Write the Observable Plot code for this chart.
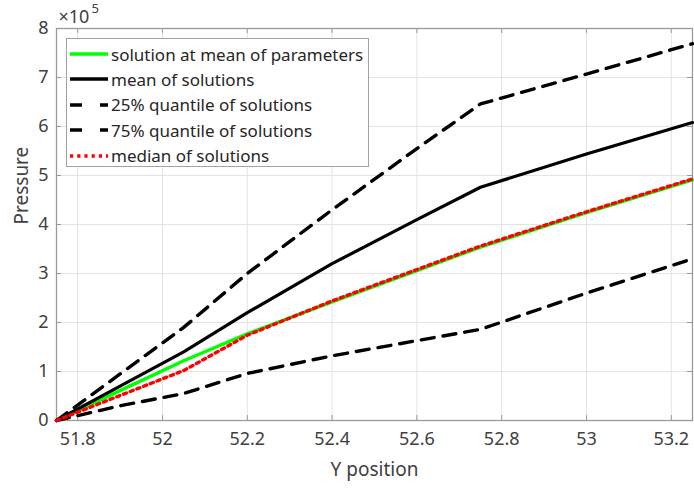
<!DOCTYPE html>
<html>
<head>
<meta charset="utf-8">
<script src="https://cdn.jsdelivr.net/npm/d3@7"></script>
<script src="https://cdn.jsdelivr.net/npm/@observablehq/plot@0.6"></script>
<style>
  body { margin: 0; background: #fff; }
  #wrap { position: relative; width: 694px; height: 489px; font-family: "Noto Sans", "Open Sans", sans-serif; }
  #legend { position: absolute; left: 66px; top: 38px; width: 303px; height: 129px; border: 1px solid #a3a3a3; background: #fff; box-sizing: border-box; }
  .row { position: absolute; left: 0; height: 26px; display: flex; align-items: center; font-size: 17px; color: #262626; white-space: nowrap; }
  .row svg { margin-left: 3px; margin-right: 3px; }
</style>
</head>
<body>
<div id="wrap"></div>
<script>
// ---- data (pressure in units of 1e5) ----
const yPosition = [51.75, 51.9, 52.05, 52.2, 52.4, 52.6, 52.75, 53.0, 53.25];
const solAtMean = [0, 0.61, 1.22, 1.77, 2.42, 3.06, 3.54, 4.24, 4.91];
const meanSol   = [0, 0.70, 1.40, 2.20, 3.20, 4.10, 4.76, 5.44, 6.08];
const q25Sol    = [0, 0.30, 0.55, 0.96, 1.32, 1.63, 1.86, 2.60, 3.30];
const q75Sol    = [0, 0.95, 1.90, 3.00, 4.30, 5.55, 6.46, 7.07, 7.69];
const medianSol = [0, 0.51, 1.02, 1.74, 2.44, 3.08, 3.56, 4.26, 4.93];
const xTicks = [51.8, 52, 52.2, 52.4, 52.6, 52.8, 53, 53.2];
const yTicks = [0, 1, 2, 3, 4, 5, 6, 7, 8];
const seriesNames = ["solution at mean of parameters", "mean of solutions", "25% quantile of solutions", "75% quantile of solutions", "median of solutions"];

const toRows = (vals) => yPosition.map((x, i) => ({x, y: vals[i]}));

const FRAME = "#9a9a9a";
const TEXT = "#404040";
const font = '"Noto Sans", "Open Sans", sans-serif';

const chart = Plot.plot({
  width: 694,
  height: 489,
  marginLeft: 56,
  marginRight: 2,
  marginTop: 28,
  marginBottom: 69,
  style: {fontFamily: font, fontSize: "18px", color: TEXT, background: "white"},
  x: {domain: [51.75, 53.25], ticks: xTicks},
  y: {domain: [0, 8], ticks: yTicks},
  marks: [
    Plot.gridX(xTicks, {stroke: "#e3e3e3", strokeOpacity: 1}),
    Plot.gridY(yTicks, {stroke: "#e3e3e3", strokeOpacity: 1}),
    Plot.axisX(xTicks, {tickSize: 0, tickPadding: 12, label: null, tickFormat: d => String(d), fontSize: 18}),
    Plot.axisY(yTicks, {tickSize: 0, tickPadding: 8, label: null, tickFormat: d => String(d), fontSize: 18}),
    // inward ticks (bottom/top/left/right)
    Plot.ruleX(xTicks, {stroke: FRAME, insetTop: 387}),
    Plot.ruleX(xTicks, {stroke: FRAME, insetBottom: 387}),
    Plot.ruleY(yTicks, {stroke: FRAME, insetRight: 631}),
    Plot.ruleY(yTicks, {stroke: FRAME, insetLeft: 631}),
    Plot.frame({stroke: FRAME, strokeWidth: 1.3}),
    Plot.line(toRows(solAtMean), {x: "x", y: "y", stroke: "#00ff00", strokeWidth: 3.4}),
    Plot.line(toRows(meanSol), {x: "x", y: "y", stroke: "black", strokeWidth: 3.2}),
    Plot.line(toRows(q25Sol), {x: "x", y: "y", stroke: "black", strokeWidth: 3.4, strokeDasharray: "13,9"}),
    Plot.line(toRows(q75Sol), {x: "x", y: "y", stroke: "black", strokeWidth: 3.4, strokeDasharray: "13,9"}),
    Plot.line(toRows(medianSol), {x: "x", y: "y", stroke: "red", strokeWidth: 3.4, strokeDasharray: "3.2,4"}),
    Plot.text(["Y position"], {frameAnchor: "bottom", dy: 49, fontSize: 19, fill: TEXT, lineAnchor: "middle"}),
    Plot.text(["Pressure"], {frameAnchor: "left", dx: -35, rotate: -90, fontSize: 19, fill: TEXT, lineAnchor: "middle"}),
    Plot.text(["×10"], {frameAnchor: "top-left", dx: 2, dy: -11, fontSize: 18, fill: TEXT, textAnchor: "start", lineAnchor: "middle"}),
    Plot.text(["5"], {frameAnchor: "top-left", dx: 35, dy: -20, fontSize: 13, fill: TEXT, textAnchor: "start", lineAnchor: "middle"})
  ]
});

const wrap = document.getElementById("wrap");
wrap.appendChild(chart);

// legend
const legendStyles = [
  {stroke: "#00ff00", dash: null},
  {stroke: "black", dash: null},
  {stroke: "black", dash: "12,18"},
  {stroke: "black", dash: "12,18"},
  {stroke: "red", dash: "3.2,4"}
];
const legend = document.createElement("div");
legend.id = "legend";
seriesNames.forEach((name, i) => {
  const row = document.createElement("div");
  row.className = "row";
  row.style.top = (2 + i * 25.4) + "px";
  const s = legendStyles[i];
  row.innerHTML = `<svg width="38" height="10"><line x1="0" y1="5" x2="38" y2="5" stroke="${s.stroke}" stroke-width="3.4" ${s.dash ? `stroke-dasharray="${s.dash}"` : ""}/></svg><span>${name}</span>`;
  legend.appendChild(row);
});
wrap.appendChild(legend);
</script>
</body>
</html>
